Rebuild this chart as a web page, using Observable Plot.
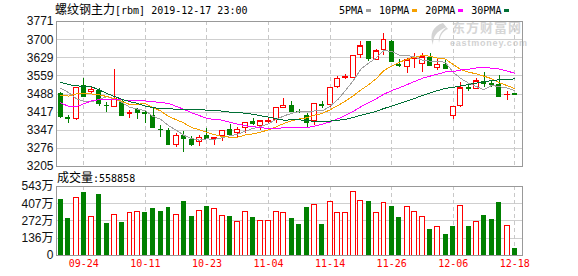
<!DOCTYPE html>
<html><head><meta charset="utf-8">
<script src="https://cdn.jsdelivr.net/npm/d3@7"></script>
<script src="https://cdn.jsdelivr.net/npm/@observablehq/plot@0.6"></script>
<style>
body{margin:0;background:#fff}
#root{position:relative;width:578px;height:276px;overflow:hidden;background:#fff}
.abs{position:absolute;white-space:nowrap}
.mono{font-family:"DejaVu Sans Mono",monospace;font-size:10px}
.cjk{font-family:"Noto Sans CJK SC",sans-serif;font-size:12px}
.sq{display:inline-block;width:5px;height:3px;margin:0 8px 0 3px;vertical-align:middle}
#root svg{position:absolute;left:0}
</style></head><body><div id="root"></div>
<script>
// ---- data ----
const titleCn = "螺纹钢主力";
const titleLat = "[rbm] 2019-12-17 23:00";
const dates = ["09-19","09-20","09-23","09-24","09-25","09-26","09-27","09-30","10-08","10-09",
"10-10","10-11","10-14","10-15","10-16","10-17","10-18","10-21","10-22","10-23",
"10-24","10-25","10-28","10-29","10-30","10-31","11-01","11-04","11-05","11-06",
"11-07","11-08","11-11","11-12","11-13","11-14","11-15","11-18","11-19","11-20",
"11-21","11-22","11-25","11-26","11-27","11-28","11-29","12-02","12-03","12-04",
"12-05","12-06","12-09","12-10","12-11","12-12","12-13","12-16","12-17","12-18"];
const open  = [3490,3396,3389,3520,3494,3502,3445,3437,3460,3410,3428,3416,3406,3351,3346,3290,3327,3312,3300,3326,
3311,3323,3350,3336,3355,3380,3365,3378,3388,3433,3443,3421,3405,3381,3447,3446,3515,3550,3551,3641,
3693,3621,3660,3693,3604,3595,3623,3604,3632,3590,3602,3401,3443,3512,3508,3536,3530,3525,3484,3490];
const high  = [3492,3404,3514,3547,3512,3510,3456,3584,3462,3424,3432,3424,3430,3366,3352,3332,3340,3322,3326,3352,
3320,3346,3368,3358,3378,3394,3385,3391,3436,3469,3459,3426,3410,3452,3460,3513,3556,3563,3639,3693,
3694,3662,3723,3696,3621,3628,3646,3646,3646,3625,3622,3441,3534,3528,3547,3570,3541,3560,3498,3491];
const low   = [3394,3374,3386,3473,3486,3438,3417,3436,3402,3394,3388,3372,3352,3320,3287,3281,3258,3282,3284,3313,
3287,3303,3329,3320,3333,3365,3346,3368,3372,3430,3418,3410,3352,3365,3430,3437,3511,3545,3547,3628,
3615,3619,3638,3612,3593,3567,3589,3570,3598,3580,3584,3388,3437,3498,3505,3515,3515,3476,3463,3484];
const close = [3401,3394,3513,3478,3504,3450,3442,3469,3404,3413,3417,3412,3356,3348,3291,3326,3313,3292,3317,3316,
3317,3344,3331,3348,3375,3371,3381,3384,3434,3443,3420,3418,3378,3450,3444,3512,3547,3556,3637,3675,
3625,3655,3699,3616,3601,3619,3629,3632,3600,3603,3589,3439,3511,3509,3537,3528,3526,3480,3486,3485];
const volume = [4410000,2880000,4540000,4960000,3040000,4800000,2520000,3200000,2600000,3360000,
3440000,3380000,3670000,3460000,3780000,3200000,4250000,3070000,3520000,3860000,
3670000,3120000,3070000,2650000,3440000,2990000,2730000,2730000,3440000,3360000,
2910000,2440000,3780000,4010000,2440000,4220000,3360000,3360000,5010000,4300000,
4250000,3360000,4140000,3860000,2990000,3830000,3440000,3040000,2050000,2260000,
1650000,2280000,3910000,2280000,2650000,3150000,2830000,4170000,2330000,558858];
// 1 = volume bar drawn red (up), 0 = green (down)
const volUp = [0,0,1,0,1,0,0,1,0,1,1,0,0,0,0,1,0,0,1,0,1,1,0,1,1,0,1,1,1,1,
0,0,0,1,0,1,1,1,1,1,0,1,1,0,0,1,1,1,0,1,0,0,1,0,1,0,0,0,1,0];
const ma5 = [3511,3494,3470,3460,3458,3467.8,3477.4,3468.6,3453.8,3435.6,3429,3423,3400.4,3389.2,3364.8,3346.6,3326.8,3314,3307.8,3312.8,
3311,3317.2,3325,3331.2,3343,3353.8,3361.2,3371.8,3389,3402.6,3412.4,3419.8,3418.6,3421.8,3422,3440.4,3466.2,3501.8,3539.2,3585.4,
3608,3629.6,3658.2,3654,3639.2,3638,3632.8,3619.4,3616.2,3616.6,3610.6,3572.6,3548.4,3530.2,3517,3504.8,3522.2,3516,3511.4,3501];
const ma10 = [3482,3480,3488,3489,3488,3485,3478,3470,3458,3446.8,3448.4,3450.2,3434.5,3421.5,3400.2,3387.8,3374.9,3357.2,3348.5,3338.8,
3328.8,3322,3319.5,3319.5,3327.9,3332.4,3339.2,3348.4,3360.1,3372.8,3383.1,3390.5,3395.2,3405.4,3412.3,3426.4,3443,3460.2,3480.5,3503.7,
3524.2,3547.9,3580,3596.6,3612.3,3623,3631.2,3638.8,3635.1,3627.9,3624.3,3602.7,3583.9,3573.2,3566.8,3557.7,3547.4,3532.2,3520.8,3509];
const ma20 = [3453,3440,3438,3450,3461,3466,3467,3467,3465,3463,3462,3461,3458,3455,3451,3440,3428,3415,3404,3392.8,
3388.6,3386.1,3377,3370.5,3364.1,3360.1,3357.1,3352.8,3354.3,3355.8,3356,3356.3,3357.4,3362.5,3370.1,3379.4,3391.1,3404.3,3420.3,3438.3,
3453.7,3469.2,3487.6,3501,3512.3,3524.7,3537.1,3549.5,3557.8,3565.8,3574.3,3575.3,3582,3584.9,3589.6,3590.4,3589.3,3585.5,3578,3568.5];
const ma30 = [3534,3525,3520,3518,3516,3504,3490,3478,3467,3458,3451,3441,3435,3431,3430,3429,3429,3428,3427,3425,
3424,3421,3417,3416,3413,3409,3403,3398,3391,3386.1,3386.8,3387.6,3383.1,3382.1,3380.1,3382.2,3385.7,3388.6,3396.4,3405.1,
3412,3420.1,3431.6,3440.5,3450.8,3460.6,3471.1,3482.5,3491.9,3501.5,3510.5,3513.7,3519.7,3525.1,3530.5,3535.7,3540.5,3543.7,3545.5,3546.9];
const maNames = ["5PMA","10PMA","20PMA","30PMA"];
const maColors = ["#a0a0a0","#f5a000","#ff00ff","#006f35"];
const priceTicks = [3771,3700,3629,3559,3488,3417,3347,3276,3205];
const volTicks = [5430000,4070000,2720000,1360000,0];
const volLabels = ["543万","407万","272万","136万","0"];
const xTickLabels = ["09-24","10-11","10-23","11-04","11-14","11-26","12-06","12-18"];
const volCaption = "成交量";

// ---- build ----
const root = document.getElementById("root");
const GREEN = "#008000", RED = "#ff0000";
const N = dates.length;
const idx = d3.range(N);
const candles = idx.map(i => ({i, o: open[i], h: high[i], l: low[i], c: close[i], up: close[i] >= open[i]}));
const bars = idx.map(i => ({i, v: volume[i], up: volUp[i] === 1}));
const xTicks = xTickLabels.map(l => dates.indexOf(l));
const hw = 0.32;
const xs = {type: "linear", domain: [-0.55, 60], axis: null};
const crisp = {shapeRendering: "crispEdges"};
const svgStyle = {background: "transparent", overflow: "visible", fontFamily: "'Liberation Sans', 'Noto Sans CJK SC', sans-serif", fontSize: "12px"};
const maSeries = [ma5, ma10, ma20, ma30];

// watermark (behind)
const wm = document.createElement("div");
wm.innerHTML = `
<svg class="wmlogo" width="22" height="24" style="position:absolute;left:427px;top:22px" viewBox="0 0 22 24">
<path d="M16 1 C6 4 2 12 6 23 C6 15 9 9 20 5 C14 9 11 14 12 21 C13 13 16 9 21 7 Z" fill="#d4d4d4"/></svg>
<div class="abs" style="left:452px;top:20px;font-family:'Noto Sans CJK SC';font-weight:bold;font-size:13px;line-height:14px;color:#d6d6d6;letter-spacing:1px">东方财富网</div>
<div class="abs" style="left:450px;top:39px;font-family:'Liberation Sans';font-weight:bold;font-size:9px;line-height:9px;color:#d2d2d2;letter-spacing:0.8px">eastmoney.com</div>`;
root.appendChild(wm);

const price = Plot.plot({
  width: 578, height: 176,
  marginLeft: 56, marginRight: 56, marginTop: 21, marginBottom: 10,
  x: xs, y: {domain: [3205, 3771], axis: null},
  style: svgStyle,
  marks: [
    Plot.ruleY(priceTicks.slice(1, -1), {stroke: "#cfcfcf", ...crisp}),
    Plot.ruleX(xTicks, {stroke: "#c8c8c8", strokeDasharray: "4,3", ...crisp}),
    Plot.ruleX(candles, {x: "i", y1: "l", y2: "h", stroke: d => d.up ? RED : GREEN, ...crisp}),
    Plot.rect(candles.filter(d => !d.up), {x1: d => d.i - hw, x2: d => d.i + hw, y1: "o", y2: "c", fill: GREEN, ...crisp}),
    Plot.rect(candles.filter(d => d.up), {x1: d => d.i - hw, x2: d => d.i + hw, y1: "o", y2: "c", fill: "#fff", stroke: RED, strokeWidth: 1, ...crisp}),
    Plot.ruleY(candles, {x1: d => d.i - hw, x2: d => d.i + hw, y: "c", stroke: d => d.up ? RED : GREEN, ...crisp}),
    ...maSeries.map((s, k) => Plot.line(idx, {x: d => d, y: d => s[d], stroke: maColors[k], strokeWidth: 1, ...crisp})),
    Plot.frame({stroke: "#999", ...crisp}),
    Plot.text(priceTicks, {y: d => d, frameAnchor: "left", dx: -3, textAnchor: "end", text: d => String(d), fill: "#111", fontSize: 12})
  ]
});
price.style.top = "0px";
root.appendChild(price);

const vol = Plot.plot({
  width: 578, height: 100,
  marginLeft: 56, marginRight: 56, marginTop: 10, marginBottom: 21,
  x: xs, y: {domain: [0, 5430000], axis: null},
  style: svgStyle,
  marks: [
    Plot.ruleY(volTicks.slice(1, -1), {stroke: "#cfcfcf", ...crisp}),
    Plot.ruleX(xTicks, {stroke: "#c8c8c8", strokeDasharray: "4,3", ...crisp}),
    Plot.rect(bars.filter(d => !d.up), {x1: d => d.i - hw, x2: d => d.i + hw, y1: 0, y2: "v", fill: GREEN, ...crisp}),
    Plot.rect(bars.filter(d => d.up), {x1: d => d.i - hw, x2: d => d.i + hw, y1: 0, y2: "v", fill: "#fff", stroke: RED, strokeWidth: 1, ...crisp}),
    Plot.frame({stroke: "#999", ...crisp}),
    Plot.text(volTicks, {y: d => d, frameAnchor: "left", dx: -3, textAnchor: "end", text: (d, i) => volLabels[i], fill: "#111", fontSize: 12}),
    Plot.text(xTicks, {x: d => d, frameAnchor: "bottom", dy: 11, text: d => dates[d], fill: RED, fontSize: 10, fontFamily: "'DejaVu Sans Mono', monospace"})
  ]
});
vol.style.top = "176px";
root.appendChild(vol);

// title
const t = document.createElement("div");
t.className = "abs";
t.style.cssText = "left:55px;top:2px;line-height:14px;color:#000";
t.innerHTML = `<span class="cjk">${titleCn}</span><span class="mono">${titleLat}</span>`;
root.appendChild(t);

// legend
const lg = document.createElement("div");
lg.className = "abs";
lg.style.cssText = "left:339px;top:2px;line-height:14px;color:#000";
lg.innerHTML = maNames.map((n, k) => `<span class="mono">${n}</span><span class="sq" style="background:${maColors[k]}"></span>`).join("");
root.appendChild(lg);

// volume caption
const cap = document.createElement("div");
cap.className = "abs";
cap.style.cssText = "left:57px;top:170px;line-height:14px;color:#000";
cap.innerHTML = `<span class="cjk">${volCaption}</span><span class="mono">:${volume[N - 1]}</span>`;
root.appendChild(cap);
</script></body></html>
